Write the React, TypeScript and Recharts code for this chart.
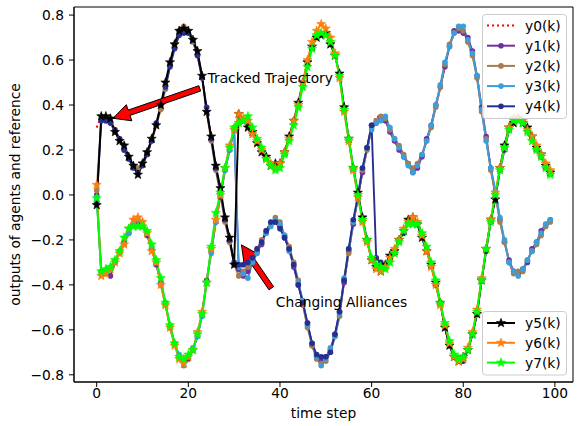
import React from 'react';
import { LineChart, Line, XAxis, YAxis, ReferenceLine, ReferenceDot, ReferenceArea, Legend } from 'recharts';

// time steps 0..99
const steps: number[] = Array.from({ length: 100 }, (_, i) => i);

const y0 = [0.30,
  0.35,0.345,0.335,0.29,0.25,0.21,0.17,0.14,0.11,0.13,0.18,0.24,0.31,0.39,0.48,0.58,0.66,0.72,0.745,0.73,0.69,0.63,0.53,0.38,0.25,0.12,0.01,-0.11,-0.20,-0.30,
  -0.35,-0.345,-0.335,-0.29,-0.25,-0.21,-0.17,-0.14,-0.11,-0.13,-0.18,-0.24,-0.31,-0.39,-0.48,-0.58,-0.66,-0.72,-0.745,-0.73,-0.69,-0.63,-0.53,-0.38,-0.25,-0.12,-0.01,0.11,0.20,0.30,
  0.35,0.345,0.335,0.29,0.25,0.21,0.17,0.14,0.11,0.13,0.18,0.24,0.31,0.39,0.48,0.58,0.66,0.72,0.745,0.73,0.69,0.63,0.53,0.38,0.25,0.12,0.01,-0.11,-0.20,-0.30,
  -0.35,-0.345,-0.335,-0.29,-0.25,-0.21,-0.17,-0.14,-0.11];

const y1 = [0.00,
  -0.34,-0.35,-0.36,-0.30,-0.25,-0.21,-0.17,-0.13,-0.12,-0.14,-0.18,-0.24,-0.31,-0.39,-0.48,-0.59,-0.66,-0.72,-0.74,-0.73,-0.69,-0.63,-0.53,-0.38,-0.25,-0.12,-0.01,0.11,0.20,0.29,
  -0.33,-0.36,-0.34,-0.28,-0.25,-0.22,-0.16,-0.13,-0.12,-0.14,-0.19,-0.24,-0.32,-0.40,-0.48,-0.57,-0.67,-0.72,-0.74,-0.72,-0.69,-0.62,-0.52,-0.39,-0.25,-0.13,-0.01,0.10,0.21,0.31,
  0.32,0.34,0.33,0.28,0.24,0.20,0.17,0.14,0.10,0.12,0.17,0.25,0.31,0.40,0.48,0.57,0.66,0.73,0.73,0.72,0.70,0.64,0.53,0.39,0.26,0.12,0.01,-0.11,-0.21,-0.29,
  -0.34,-0.35,-0.33,-0.30,-0.24,-0.21,-0.16,-0.13,-0.11];

const y2 = [0.02,
  0.34,0.33,0.32,0.28,0.25,0.20,0.17,0.13,0.12,0.14,0.19,0.24,0.31,0.38,0.47,0.58,0.67,0.73,0.75,0.72,0.68,0.62,0.52,0.37,0.24,0.11,0.00,-0.12,-0.21,-0.31,
  -0.36,-0.34,-0.32,-0.29,-0.24,-0.20,-0.17,-0.13,-0.10,-0.12,-0.18,-0.23,-0.30,-0.38,-0.49,-0.59,-0.67,-0.73,-0.75,-0.74,-0.70,-0.63,-0.54,-0.38,-0.26,-0.12,-0.02,0.11,0.20,0.30,
  0.33,0.35,0.34,0.29,0.25,0.22,0.18,0.14,0.12,0.14,0.18,0.24,0.30,0.39,0.48,0.58,0.67,0.72,0.74,0.73,0.68,0.62,0.52,0.37,0.25,0.11,0.00,-0.12,-0.21,-0.30,
  -0.35,-0.34,-0.34,-0.29,-0.25,-0.22,-0.18,-0.14,-0.12];

const y3 = [-0.01,
  -0.35,-0.34,-0.33,-0.29,-0.26,-0.22,-0.17,-0.13,-0.11,-0.13,-0.17,-0.23,-0.30,-0.40,-0.49,-0.58,-0.66,-0.71,-0.76,-0.72,-0.68,-0.63,-0.54,-0.39,-0.26,-0.12,0.00,0.11,0.20,0.30,
  -0.32,-0.35,-0.37,-0.30,-0.26,-0.21,-0.17,-0.14,-0.11,-0.13,-0.18,-0.25,-0.31,-0.39,-0.47,-0.58,-0.66,-0.72,-0.76,-0.73,-0.68,-0.63,-0.53,-0.37,-0.24,-0.12,0.00,0.12,0.21,0.29,
  0.32,0.33,0.35,0.30,0.25,0.21,0.17,0.13,0.10,0.13,0.18,0.24,0.31,0.40,0.49,0.59,0.66,0.72,0.75,0.75,0.69,0.63,0.53,0.38,0.24,0.12,0.02,-0.10,-0.20,-0.30,
  -0.34,-0.36,-0.33,-0.29,-0.25,-0.21,-0.17,-0.13,-0.11];

const y4 = [-0.03,
  0.33,0.33,0.32,0.29,0.25,0.20,0.16,0.12,0.10,0.13,0.18,0.24,0.32,0.40,0.48,0.57,0.65,0.71,0.72,0.72,0.69,0.62,0.52,0.39,0.25,0.12,0.02,-0.11,-0.20,-0.30,
  -0.31,-0.31,-0.30,-0.28,-0.24,-0.21,-0.16,-0.12,-0.12,-0.15,-0.19,-0.24,-0.31,-0.40,-0.48,-0.57,-0.66,-0.71,-0.72,-0.72,-0.70,-0.62,-0.52,-0.38,-0.24,-0.11,-0.01,0.12,0.21,0.31,
  -0.28,-0.30,-0.32,-0.29,-0.26,-0.20,-0.17,-0.12,-0.11,-0.13,-0.19,-0.24,-0.31,-0.40,-0.48,-0.59,-0.67,-0.72,-0.74,-0.74,-0.69,-0.62,-0.53,-0.38,-0.25,-0.12,-0.01,0.11,0.20,0.29,
  0.33,0.34,0.33,0.29,0.25,0.21,0.17,0.13,0.10];

const y5 = [-0.045,
  0.35,0.35,0.34,0.28,0.24,0.22,0.17,0.13,0.09,0.14,0.19,0.25,0.31,0.40,0.50,0.59,0.67,0.73,0.74,0.73,0.69,0.64,0.53,0.37,0.26,0.13,0.03,-0.10,-0.19,-0.31,
  0.36,0.33,0.30,0.28,0.23,0.19,0.17,0.13,0.14,0.14,0.19,0.26,0.33,0.41,0.50,0.59,0.66,0.70,0.71,0.72,0.67,0.62,0.54,0.39,0.25,0.12,0.01,-0.10,-0.20,-0.29,
  -0.32,-0.34,-0.31,-0.27,-0.25,-0.20,-0.16,-0.11,-0.10,-0.13,-0.19,-0.25,-0.31,-0.39,-0.48,-0.59,-0.67,-0.72,-0.74,-0.72,-0.69,-0.62,-0.53,-0.38,-0.24,-0.11,-0.02,0.12,0.22,0.30,
  0.32,0.34,0.32,0.30,0.26,0.21,0.18,0.13,0.10];

const y6 = [0.045,
  -0.36,-0.35,-0.33,-0.30,-0.26,-0.22,-0.15,-0.11,-0.10,-0.12,-0.17,-0.25,-0.30,-0.40,-0.49,-0.59,-0.67,-0.73,-0.75,-0.72,-0.69,-0.61,-0.52,-0.39,-0.24,-0.11,0.00,0.12,0.22,0.29,
  0.36,0.34,0.33,0.27,0.24,0.20,0.16,0.14,0.12,0.14,0.19,0.25,0.33,0.40,0.50,0.60,0.68,0.73,0.76,0.74,0.70,0.63,0.52,0.37,0.24,0.11,-0.01,-0.12,-0.21,-0.29,
  -0.33,-0.34,-0.32,-0.28,-0.24,-0.20,-0.15,-0.12,-0.10,-0.12,-0.18,-0.25,-0.32,-0.40,-0.49,-0.58,-0.66,-0.72,-0.74,-0.73,-0.68,-0.61,-0.51,-0.37,-0.24,-0.11,0.01,0.12,0.21,0.30,
  0.34,0.34,0.33,0.29,0.26,0.22,0.18,0.14,0.11];

const y7 = [-0.015,
  -0.34,-0.33,-0.32,-0.29,-0.25,-0.19,-0.15,-0.14,-0.14,-0.14,-0.16,-0.22,-0.29,-0.37,-0.48,-0.58,-0.66,-0.72,-0.73,-0.71,-0.69,-0.62,-0.53,-0.39,-0.23,-0.08,0.01,0.12,0.21,0.30,
  0.32,0.33,0.35,0.30,0.25,0.21,0.16,0.13,0.11,0.12,0.18,0.24,0.31,0.39,0.48,0.57,0.65,0.71,0.72,0.71,0.68,0.62,0.53,0.38,0.25,0.12,0.00,-0.11,-0.20,-0.28,
  -0.31,-0.32,-0.33,-0.30,-0.26,-0.21,-0.16,-0.13,-0.13,-0.13,-0.17,-0.23,-0.30,-0.38,-0.48,-0.57,-0.65,-0.71,-0.73,-0.72,-0.69,-0.62,-0.52,-0.38,-0.24,-0.12,0.00,0.11,0.21,0.29,
  0.33,0.33,0.32,0.28,0.24,0.20,0.17,0.12,0.09];

const xTicks = [0, 20, 40, 60, 80, 100];
const yTicks = [-0.8, -0.6, -0.4, -0.2, 0, 0.2, 0.4, 0.6, 0.8];
const xDomain: [number, number] = [-4.95, 103.95];
const yDomain: [number, number] = [-0.832, 0.836];

const seriesKeys = ['y0', 'y1', 'y2', 'y3', 'y4', 'y5', 'y6', 'y7'];
const seriesLabels = ['y0(k)', 'y1(k)', 'y2(k)', 'y3(k)', 'y4(k)', 'y5(k)', 'y6(k)', 'y7(k)'];
const seriesColors = ['#ff0000', '#7030a0', '#a67d50', '#3a9ed8', '#262f8f', '#000000', '#ff7f0e', '#00ff00'];
const seriesMarkers = ['none', 'dot', 'dot', 'dot', 'dot', 'star', 'star', 'star'];

const annoTexts = ['Tracked Trajectory', 'Changing Alliances'];
const annoTextPos = [{ x: 24.2, y: 0.497 }, { x: 39.1, y: -0.497 }];
const annoArrows = [
  [{ x: 22.5, y: 0.474 }, { x: 3.56, y: 0.341 }],
  [{ x: 38.1, y: -0.415 }, { x: 31.6, y: -0.222 }],
];

const allSeries = [y0, y1, y2, y3, y4, y5, y6, y7];
const data = steps.map((k, i) => {
  const row: any = { k };
  seriesKeys.forEach((key, s) => { row[key] = allSeries[s][i]; });
  return row;
});

const FONT = 'DejaVu Sans';
const FS = 13.8;

const starPoints = (cx: number, cy: number, R: number, r: number) => {
  const pts: string[] = [];
  for (let i = 0; i < 10; i++) {
    const a = -Math.PI / 2 + (i * Math.PI) / 5;
    const rad = i % 2 === 0 ? R : r;
    pts.push(`${cx + rad * Math.cos(a)},${cy + rad * Math.sin(a)}`);
  }
  return pts.join(' ');
};

const makeStarDot = (color: string) => (props: any) => {
  const { cx, cy, index } = props;
  if (cx == null || cy == null) return <g key={`s${index}`} />;
  return <polygon key={`s${index}`} points={starPoints(cx, cy, 4.8, 2)} fill={color} stroke={color} strokeWidth={0.6} />;
};

const ArrowShape = (props: any) => {
  const { x1, y1, x2, y2 } = props;
  if ([x1, y1, x2, y2].some((v) => v == null || isNaN(v))) return <g />;
  const dx = x2 - x1, dy = y2 - y1;
  const L = Math.hypot(dx, dy);
  const ux = dx / L, uy = dy / L;
  const nx = -uy, ny = ux;
  const w = 2.8, hw = 8.5, hl = 17;
  const bx = x2 - ux * hl, by = y2 - uy * hl;
  const p = [
    [x1 + nx * w, y1 + ny * w], [bx + nx * w, by + ny * w], [bx + nx * hw, by + ny * hw], [x2, y2],
    [bx - nx * hw, by - ny * hw], [bx - nx * w, by - ny * w], [x1 - nx * w, y1 - ny * w],
  ];
  return <polygon points={p.map((q) => q.join(',')).join(' ')} fill="#ff0000" stroke="#000" strokeWidth={1} />;
};

const makeTextShape = (txt: string) => (props: any) => {
  const { cx, cy } = props;
  return <text x={cx} y={cy} fontFamily={FONT} fontSize={FS} fill="#000">{txt}</text>;
};

const LegendSample = ({ idx, x, y }: { idx: number; x: number; y: number }) => {
  const color = seriesColors[idx];
  const m = seriesMarkers[idx];
  return (
    <g>
      <line x1={x} y1={y} x2={x + 28} y2={y} stroke={color} strokeWidth={2} strokeDasharray={m === 'none' ? '2 3' : undefined} />
      {m === 'dot' && <circle cx={x + 14} cy={y} r={2.8} fill={color} />}
      {m === 'star' && <polygon points={starPoints(x + 14, y, 4.8, 2)} fill={color} stroke={color} strokeWidth={0.6} />}
      <text x={x + 38} y={y + 5} fontFamily={FONT} fontSize={FS} fill="#000">{seriesLabels[idx]}</text>
    </g>
  );
};

const renderLegend = () => (
  <svg width={578} height={426} style={{ position: 'absolute', left: 0, top: 0, pointerEvents: 'none' }}>
    <rect x={482.5} y={14.5} width={84} height={104} rx={3} fill="#fff" fillOpacity={0.8} stroke="#cccccc" />
    {[0, 1, 2, 3, 4].map((idx, r) => (
      <LegendSample key={idx} idx={idx} x={487} y={25.5 + r * 20.2} />
    ))}
    <rect x={482.5} y={311.5} width={84} height={63.5} rx={3} fill="#fff" fillOpacity={0.8} stroke="#cccccc" />
    {[5, 6, 7].map((idx, r) => (
      <LegendSample key={idx} idx={idx} x={487} y={323 + r * 19.8} />
    ))}
  </svg>
);

const yFmt = (v: number) => (v < 0 ? '\u2212' : '') + Math.abs(v).toFixed(1);

export default function App() {
  return (
    <div style={{ position: 'absolute', left: 0, top: 0, width: 578, height: 426, background: '#fff' }}>
      <LineChart width={578} height={426} data={data} margin={{ top: 7, right: 5, bottom: 0, left: 14 }} style={{ fontFamily: FONT }}>
        <XAxis
          dataKey="k" type="number" domain={xDomain} ticks={xTicks} allowDataOverflow height={44}
          tick={{ fill: '#000', fontSize: FS, fontFamily: FONT }} tickSize={5} tickMargin={1}
          tickLine={{ stroke: '#000' }} axisLine={{ stroke: '#000' }}
          label={{ content: () => <text x={323.5} y={418} textAnchor="middle" fontFamily={FONT} fontSize={FS} fill="#000">time step</text> }}
        />
        <YAxis
          type="number" domain={yDomain} ticks={yTicks} allowDataOverflow width={60}
          tick={{ fill: '#000', fontSize: FS, fontFamily: FONT }} tickSize={5} tickMargin={5}
          tickFormatter={yFmt} tickLine={{ stroke: '#000' }} axisLine={{ stroke: '#000' }}
          label={{ content: () => <text x={19.5} y={194.5} transform="rotate(-90 19.5 194.5)" textAnchor="middle" fontFamily={FONT} fontSize={FS} fill="#000">outputs of agents and reference</text> }}
        />
        <ReferenceArea x1={xDomain[0]} x2={xDomain[1]} y1={yDomain[0]} y2={yDomain[1]} fill="none" fillOpacity={0} stroke="#000" strokeWidth={1} ifOverflow="visible" />
        {seriesKeys.map((key, s) => {
          const color = seriesColors[s];
          const m = seriesMarkers[s];
          return (
            <Line
              key={key} dataKey={key} type="linear" stroke={color} strokeWidth={m === 'none' ? 2 : 1.9}
              strokeDasharray={m === 'none' ? '2 3' : undefined}
              dot={m === 'none' ? false : m === 'dot' ? { r: 2.8, fill: color, stroke: color, strokeWidth: 0 } : makeStarDot(color)}
              activeDot={false} isAnimationActive={false}
            />
          );
        })}
        {annoArrows.map((seg, i) => (
          <ReferenceLine key={`a${i}`} segment={seg} shape={ArrowShape} ifOverflow="visible" />
        ))}
        {annoTexts.map((t, i) => (
          <ReferenceDot key={`t${i}`} x={annoTextPos[i].x} y={annoTextPos[i].y} r={0} shape={makeTextShape(t)} ifOverflow="visible" />
        ))}
        <Legend content={renderLegend} wrapperStyle={{ left: 0, top: 0, width: 0, height: 0 }} />
      </LineChart>
    </div>
  );
}
